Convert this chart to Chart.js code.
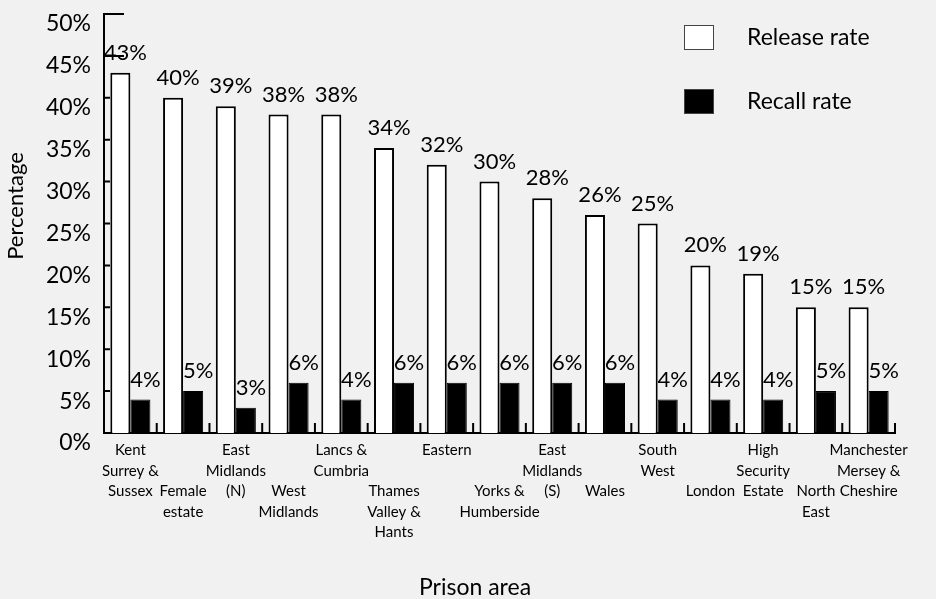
<!DOCTYPE html>
<html>
<head>
<meta charset="utf-8">
<script src="https://cdn.jsdelivr.net/npm/chart.js@4"></script>
<style>
  html, body { margin: 0; padding: 0; background: #f1f1f1; }
</style>
</head>
<body>
<canvas id="chart" width="936" height="599"></canvas>
<script>
const areas = [
  ['Kent', 'Surrey &', 'Sussex'],
  ['Female', 'estate'],
  ['East', 'Midlands', '(N)'],
  ['West', 'Midlands'],
  ['Lancs &', 'Cumbria'],
  ['Thames', 'Valley &', 'Hants'],
  ['Eastern'],
  ['Yorks &', 'Humberside'],
  ['East', 'Midlands', '(S)'],
  ['Wales'],
  ['South', 'West'],
  ['London'],
  ['High', 'Security', 'Estate'],
  ['North', 'East'],
  ['Manchester', 'Mersey &', 'Cheshire']
];
const releaseRate = [43, 40, 39, 38, 38, 34, 32, 30, 28, 26, 25, 20, 19, 15, 15];
const recallRate = [4, 5, 3, 6, 4, 6, 6, 6, 6, 6, 4, 4, 4, 5, 5];
const seriesNames = ['Release rate', 'Recall rate'];
const xTitle = 'Prison area';
const yTitle = 'Percentage';

const FONT = "Lato, sans-serif";

// grey page background
const background = {
  id: 'background',
  beforeDraw(chart) {
    const ctx = chart.ctx;
    ctx.save();
    ctx.fillStyle = '#f1f1f1';
    ctx.fillRect(0, 0, chart.width, chart.height);
    ctx.restore();
  }
};

// small inward ticks on both axes
const innerTicks = {
  id: 'innerTicks',
  afterDraw(chart) {
    const ctx = chart.ctx;
    const x = chart.scales.x, y = chart.scales.y;
    const left = chart.chartArea.left, bottom = chart.chartArea.bottom;
    ctx.save();
    ctx.strokeStyle = '#000';
    ctx.lineWidth = 2;
    ctx.beginPath();
    y.ticks.forEach(t => {
      const py = y.getPixelForValue(t.value);
      ctx.moveTo(left, py);
      ctx.lineTo(left + (t.value >= 45 ? 20 : 6), py);
    });
    const step = x.getPixelForValue(1) - x.getPixelForValue(0);
    for (let i = 0; i < areas.length; i++) {
      const px = x.getPixelForValue(i) + step / 2;
      ctx.moveTo(px, bottom);
      ctx.lineTo(px, bottom - 10);
    }
    ctx.stroke();
    ctx.restore();
  }
};

// value labels above the bars
const barLabels = {
  id: 'barLabels',
  afterDatasetsDraw(chart) {
    const ctx = chart.ctx;
    ctx.save();
    ctx.fillStyle = '#000';
    ctx.font = "22px " + FONT;
    ctx.textAlign = 'center';
    ctx.textBaseline = 'middle';
    chart.data.datasets.forEach((ds, di) => {
      chart.getDatasetMeta(di).data.forEach((bar, i) => {
        ctx.fillText(ds.data[i] + '%', bar.x + 5, bar.y - 20);
      });
    });
    ctx.restore();
  }
};

// legend at top right with big boxes, plus the two axis titles
const boxLegend = {
  id: 'boxLegend',
  afterDraw(chart) {
    const ctx = chart.ctx;
    ctx.save();
    ctx.font = "23px " + FONT;
    ctx.textBaseline = 'middle';
    ctx.textAlign = 'left';
    chart.data.datasets.forEach((ds, i) => {
      const top = 25 + i * 64;
      ctx.fillStyle = ds.backgroundColor;
      ctx.fillRect(684, top, 30, 25);
      ctx.strokeStyle = '#444';
      ctx.lineWidth = 1;
      ctx.strokeRect(684.5, top + 0.5, 29, 24);
      ctx.fillStyle = '#000';
      ctx.fillText(ds.label, 747, top + 13);
    });

    ctx.textAlign = 'center';
    ctx.fillText(xTitle, chart.width / 2 + 7, 588);
    ctx.translate(16, 206);
    ctx.rotate(-Math.PI / 2);
    ctx.font = "22px " + FONT;
    ctx.fillText(yTitle, 0, 0);
    ctx.restore();
  }
};

new Chart(document.getElementById('chart'), {
  type: 'bar',
  data: {
    labels: areas,
    datasets: [
      {
        label: seriesNames[0],
        data: releaseRate,
        backgroundColor: '#ffffff',
        borderColor: '#000',
        borderWidth: 2,
        categoryPercentage: 0.76,
        barPercentage: 1.0
      },
      {
        label: seriesNames[1],
        data: recallRate,
        backgroundColor: '#000000',
        borderColor: '#000',
        borderWidth: 1,
        categoryPercentage: 0.76,
        barPercentage: 1.0
      }
    ]
  },
  options: {
    responsive: false,
    animation: false,
    devicePixelRatio: 1,
    layout: { padding: { left: 0, right: 41, top: 14, bottom: 0 } },
    plugins: {
      legend: { display: false },
      tooltip: { enabled: false }
    },
    scales: {
      x: {
        grid: { display: false },
        border: { display: true, color: '#000', width: 2 },
        ticks: {
          autoSkip: false,
          maxRotation: 0,
          color: '#000',
          padding: -1,
          font: { family: FONT, size: 15, lineHeight: 1.367 },
          callback: (v, i) => (i % 2 ? ['', ''].concat(areas[i]) : areas[i])
        },
        afterFit(scale) { scale.height = 166; }
      },
      y: {
        min: 0,
        max: 50,
        grid: { display: false },
        border: { display: true, color: '#000', width: 2 },
        ticks: {
          stepSize: 5,
          color: '#000',
          padding: 5,
          labelOffset: 10,
          font: { family: FONT, size: 23, lineHeight: 0.5 },
          callback: v => v + '%'
        },
        afterFit(scale) {
          scale.width = 104;
          scale.paddingTop = 0;
        }
      }
    }
  },
  plugins: [background, innerTicks, barLabels, boxLegend]
});
</script>
</body>
</html>
